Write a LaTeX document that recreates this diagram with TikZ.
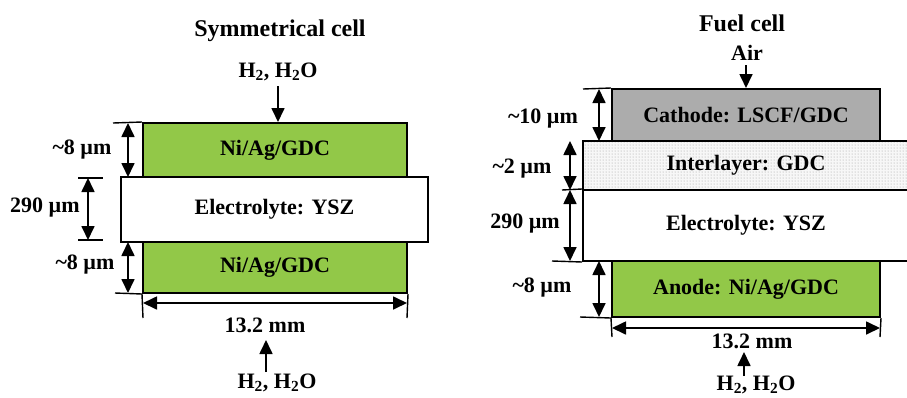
\documentclass[tikz,border=0pt]{standalone}
\usepackage{fontspec}
\setmainfont{Liberation Serif}
\usetikzlibrary{arrows.meta,patterns}
\definecolor{anodegreen}{RGB}{146,200,72}
\definecolor{cathgray}{RGB}{172,172,172}
\begin{document}
\begin{tikzpicture}[x=1pt,y=-1pt,
  lbl/.style={font=\bfseries\fontsize{22}{24}\selectfont, inner sep=0pt},
  ttl/.style={font=\bfseries\fontsize{24}{26}\selectfont, inner sep=0pt},
  layer/.style={draw=black, line width=2pt, inner sep=0pt, font=\bfseries\fontsize{22}{24}\selectfont},
  dimarrow/.style={line width=1.7pt, {Triangle[length=14pt,width=13pt]}-{Triangle[length=14pt,width=13pt]}},
  flow/.style={line width=1.7pt, -{Triangle[length=14pt,width=13pt]}},
  tickline/.style={line width=1.4pt}]
\useasboundingbox (0,0) rectangle (907,397);

% ---------- Symmetrical cell ----------
\node[ttl] (t1) at (280,31) {Symmetrical cell};
\node[lbl] (g1) at (278,72) {H\textsubscript{2}, H\textsubscript{2}O};
\node[layer, fill=anodegreen, minimum width=264pt, minimum height=54pt] (lt) at (275,150) {Ni/Ag/GDC};
\node[layer, fill=anodegreen, minimum width=264pt, minimum height=51pt] (lb) at (275,267.5) {Ni/Ag/GDC};
\node[layer, fill=white, minimum width=307pt, minimum height=65pt] (le) at (274.5,209.5) {Electrolyte: YSZ};
\coordinate (g1a) at (278,86);
\draw[flow] (g1a) -- (lt.north -| g1a);

\coordinate (s1) at (113,123);
\coordinate (s1a) at (128,123);
\coordinate (s1b) at (128,177);
\draw[tickline] (s1) -- (lt.north west);
\draw[dimarrow] (s1a) -- (s1b);
\node[lbl] (d1) at (82,150) {\textasciitilde8 µm};

\coordinate (s2t) at (78,178);
\coordinate (s2tr) at (103,178);
\coordinate (s2b) at (78,240);
\coordinate (s2br) at (103,240);
\coordinate (s2a) at (88,178);
\coordinate (s2c) at (88,240);
\draw[tickline] (s2t) -- (s2tr);
\draw[tickline] (s2b) -- (s2br);
\draw[dimarrow] (s2a) -- (s2c);
\node[lbl] (d2) at (45,208) {290 µm};

\coordinate (s3) at (115,293);
\coordinate (s3a) at (128,242);
\coordinate (s3b) at (128,293);
\draw[tickline] (s3) -- (lb.south west);
\draw[dimarrow] (s3a) -- (s3b);
\node[lbl] (d3) at (85,265) {\textasciitilde8 µm};

\coordinate (w1l) at (143,318);
\coordinate (w1r) at (407,318);
\coordinate (w1al) at (143,303);
\coordinate (w1ar) at (407,303);
\draw[tickline] (lb.south west) -- (w1l);
\draw[tickline] (lb.south east) -- (w1r);
\draw[dimarrow] (w1al) -- (w1ar);
\node[lbl] (wl1) at (265,325) {13.2 mm};
\node[lbl] (g2) at (277,383) {H\textsubscript{2}, H\textsubscript{2}O};
\coordinate (g2a) at (266,372);
\coordinate (g2b) at (266,340);
\draw[flow] (g2a) -- (g2b);

% ---------- Fuel cell ----------
\node[ttl] (t2) at (742,23) {Fuel cell};
\node[lbl] (air) at (747,53) {Air};
\node[layer, fill=cathgray, minimum width=268pt, minimum height=52pt] (ca) at (746,115) {Cathode: LSCF/GDC};
\node[layer, preaction={fill=gray!6}, pattern=dots, pattern color=gray!80, minimum width=334pt, minimum height=49pt] (il) at (750,165.5) {};
\node[lbl] (ilt) at (746,165.5) {Interlayer: GDC};
\node[layer, fill=white, minimum width=334pt, minimum height=71pt] (re) at (750,225.5) {};
\node[lbl] (ret) at (746,225.5) {Electrolyte: YSZ};
\node[layer, fill=anodegreen, minimum width=268pt, minimum height=56pt] (an) at (746,289) {Anode: Ni/Ag/GDC};
\coordinate (aira) at (746,65);
\draw[flow] (aira) -- (ca.north -| aira);

\coordinate (r1) at (583,89);
\coordinate (r1a) at (599,89);
\coordinate (r1b) at (599,141);
\draw[tickline] (r1) -- (ca.north west);
\draw[dimarrow] (r1a) -- (r1b);
\node[lbl] (e1) at (543,119) {\textasciitilde10 µm};

\coordinate (r2) at (562,190);
\coordinate (r2a) at (570,141);
\coordinate (r2b) at (570,190);
\draw[tickline] (r2) -- (re.north west);
\draw[dimarrow] (r2a) -- (r2b);
\node[lbl] (e2) at (522,169) {\textasciitilde2 µm};

\coordinate (r3) at (552,261);
\coordinate (r3a) at (570,190);
\coordinate (r3b) at (570,261);
\draw[tickline] (r3) -- (re.south west);
\draw[dimarrow] (r3a) -- (r3b);
\node[lbl] (e3) at (525,224) {290 µm};

\coordinate (r4) at (580,317);
\coordinate (r4a) at (599,261);
\coordinate (r4b) at (599,317);
\draw[tickline] (r4) -- (an.south west);
\draw[dimarrow] (r4a) -- (r4b);
\node[lbl] (e4) at (542,288) {\textasciitilde8 µm};

\coordinate (w2l) at (612,337);
\coordinate (w2r) at (880,337);
\coordinate (w2al) at (612,328);
\coordinate (w2ar) at (880,328);
\draw[tickline] (an.south west) -- (w2l);
\draw[tickline] (an.south east) -- (w2r);
\draw[dimarrow] (w2al) -- (w2ar);
\node[lbl] (wl2) at (752,341) {13.2 mm};
\node[lbl] (g3) at (756,385) {H\textsubscript{2}, H\textsubscript{2}O};
\coordinate (g3a) at (744,376);
\coordinate (g3b) at (744,352);
\draw[flow] (g3a) -- (g3b);
\end{tikzpicture}
\end{document}
